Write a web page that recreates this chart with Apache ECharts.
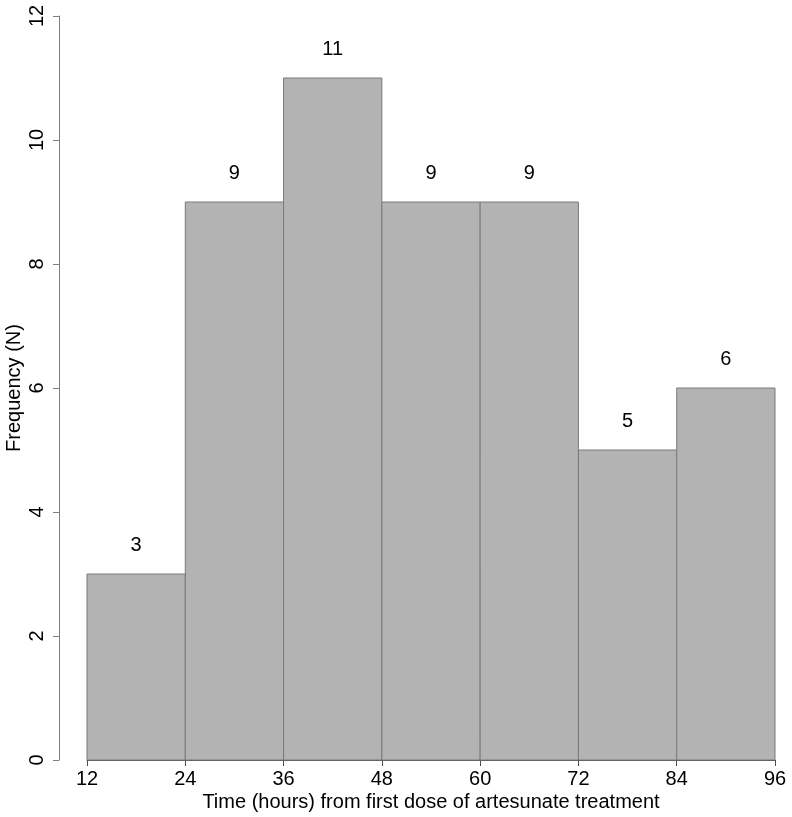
<!DOCTYPE html>
<html>
<head>
<meta charset="utf-8">
<script src="https://cdn.jsdelivr.net/npm/echarts@6/dist/echarts.min.js"></script>
<style>
html,body{margin:0;padding:0;background:#fff;}
#chart{width:792px;height:817px;}
</style>
</head>
<body>
<div id="chart"></div>
<script>
const binStarts = [12, 24, 36, 48, 60, 72, 84];
const binEnds = [24, 36, 48, 60, 72, 84, 96];
const counts = [3, 9, 11, 9, 9, 5, 6];
const xTicks = [12, 24, 36, 48, 60, 72, 84, 96];
const yTicks = [0, 2, 4, 6, 8, 10, 12];

const data = binStarts.map((s, i) => [s, binEnds[i], counts[i]]);
const FONT = 'Liberation Sans, Arial, sans-serif';

const chart = echarts.init(document.getElementById('chart'), null, {renderer: 'canvas'});
chart.setOption({
  animation: false,
  backgroundColor: '#ffffff',
  grid: {left: 87, right: 17, top: 16, bottom: 57, containLabel: false, outerBoundsMode: 'none'},
  xAxis: {
    type: 'value', min: 12, max: 96, interval: 12,
    axisLine: {show: true, lineStyle: {color: '#4d4d4d', width: 1}},
    axisTick: {show: true, length: 6, lineStyle: {color: '#4d4d4d'}},
    axisLabel: {fontFamily: FONT, fontSize: 20, color: '#000', margin: 9},
    splitLine: {show: false},
    name: 'Time (hours) from first dose of artesunate treatment',
    nameLocation: 'middle', nameGap: 32, nameMoveOverlap: false,
    nameTextStyle: {fontFamily: FONT, fontSize: 20, color: '#000'}
  },
  yAxis: {
    type: 'value', min: 0, max: 12, interval: 2, offset: 28,
    axisLine: {show: true, lineStyle: {color: '#7f7f7f', width: 1}},
    axisTick: {show: true, length: 6, lineStyle: {color: '#7f7f7f'}},
    axisLabel: {fontFamily: FONT, fontSize: 20, color: '#000', rotate: 90, margin: 12},
    splitLine: {show: false},
    name: 'Frequency (N)', nameLocation: 'middle', nameGap: 35, nameRotate: 90,
    nameMoveOverlap: false,
    nameTextStyle: {fontFamily: FONT, fontSize: 20, color: '#000'}
  },
  series: [{
    type: 'custom',
    data: data,
    encode: {x: [0, 1], y: 2},
    renderItem: function (params, api) {
      const p0 = api.coord([api.value(0), api.value(2)]);
      const p1 = api.coord([api.value(1), 0]);
      return {
        type: 'group',
        children: [{
          type: 'rect',
          shape: {x: p0[0], y: p0[1], width: p1[0] - p0[0], height: p1[1] - p0[1]},
          style: {fill: '#b3b3b3', stroke: '#7a7a7a', lineWidth: 1}
        }, {
          type: 'text',
          style: {
            text: String(api.value(2)),
            x: (p0[0] + p1[0]) / 2, y: p0[1] - 29,
            align: 'center', verticalAlign: 'middle',
            font: '20px ' + FONT, fill: '#000'
          }
        }]
      };
    }
  }]
});
</script>
</body>
</html>
